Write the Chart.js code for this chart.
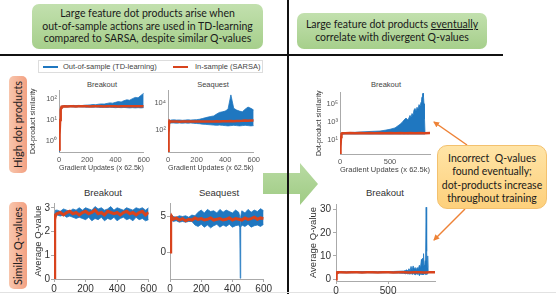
<!DOCTYPE html>
<html>
<head>
<meta charset="utf-8">
<script src="https://cdn.jsdelivr.net/npm/chart.js@4.4.1/dist/chart.umd.min.js"></script>
<style>
  body { margin: 0; background: #fff; }
  #page { position: relative; width: 556px; height: 294px; overflow: hidden; font-family: Lato, "Open Sans", sans-serif; }
  #page canvas { position: absolute; }
  #page svg { position: absolute; left: 0; top: 0; }
  .box { position: absolute; text-align: center; color: #1a1a1a; font-size: 10.5px; line-height: 12.7px; box-sizing: border-box; }
  .green { background: linear-gradient(#c2e0ae, #a6cf8b); border-radius: 7px; }
  .side { position: absolute; width: 18px; background: linear-gradient(90deg, #f3a182, #f8c6ad); border-radius: 5px;
          writing-mode: vertical-rl; transform: rotate(180deg); text-align: center; font-size: 11px; line-height: 18px; color: #222; }
  .ct { position: absolute; width: 80px; text-align: center; font-family: "Liberation Sans", Arial, sans-serif; font-weight: normal; color: #444; }
  .leg { position: absolute; left: 38px; top: 60px; width: 225px; height: 13px; border: 1px solid #ddd; box-sizing: border-box;
         font-family: "Liberation Sans", Arial, sans-serif; font-size: 7.5px; color: #444; }
  .leg span { position: absolute; top: 1px; }
  .leg i { position: absolute; top: 5px; height: 2px; width: 15px; }
</style>
</head>
<body>
<div id="page">
  <svg width="556" height="294">
    <defs>
      <marker id="ah" markerWidth="6" markerHeight="6" refX="5" refY="3" orient="auto" markerUnits="userSpaceOnUse">
        <path d="M0,0 L6,3 L0,6 z" fill="#ee8236"/>
      </marker>
      <linearGradient id="ga" x1="0" y1="0" x2="0" y2="1">
        <stop offset="0" stop-color="#b9dba3"/><stop offset="1" stop-color="#9fcb84"/>
      </linearGradient>
    </defs>
    <polygon points="263,173 300,173 300,163 318,184 300,205 300,194 263,194" fill="url(#ga)"/>
    <rect x="287" y="0" width="2" height="294" fill="#111"/>
    <rect x="0" y="54" width="503" height="2" fill="#111"/>
    <line x1="467" y1="145" x2="434" y2="122" stroke="#ee8236" stroke-width="1.5" marker-end="url(#ah)"/>
    <line x1="465" y1="209" x2="434" y2="240" stroke="#ee8236" stroke-width="1.5" marker-end="url(#ah)"/>
    <rect x="0" y="292" width="556" height="1" fill="#e2e2e2"/>
  </svg>

  <div class="box green" style="left:32px;top:4px;width:231px;height:45px;padding-top:3px;">Large feature dot products arise when<br>out-of-sample actions are used in TD-learning<br>compared to SARSA, despite similar Q-values</div>
  <div class="box green" style="left:297px;top:13px;width:190px;height:36px;padding-top:5px;">Large feature dot products <u>eventually</u><br>correlate with divergent Q-values</div>
  <div class="box" style="left:437px;top:145px;width:110px;height:64px;padding-top:6px;line-height:13.4px;border-radius:10px;border:1px solid #f3c16e;background:linear-gradient(#ffe4a6,#fdd07c);">Incorrect&nbsp; Q-values<br>found eventually;<br>dot-products increase<br>throughout training</div>

  <div class="side" style="left:9px;top:76px;height:97px;">High dot products</div>
  <div class="side" style="left:9px;top:202px;height:87px;">Similar Q-values</div>

  <div class="leg">
    <i style="left:4px;background:#1f77c0;"></i><span style="left:24px;">Out-of-sample (TD-learning)</span>
    <i style="left:134px;background:#d8431d;"></i><span style="left:156px;">In-sample (SARSA)</span>
  </div>

  <div class="ct" style="left:62px;top:80px;font-size:7.5px;">Breakout</div>
  <div class="ct" style="left:173px;top:80px;font-size:7.5px;">Seaquest</div>
  <div class="ct" style="left:346px;top:80px;font-size:7.5px;">Breakout</div>
  <div class="ct" style="left:63px;top:187px;font-size:9.5px;color:#333;">Breakout</div>
  <div class="ct" style="left:179px;top:187px;font-size:9.5px;color:#333;">Seaquest</div>
  <div class="ct" style="left:345px;top:187px;font-size:9.5px;color:#333;">Breakout</div>

  <canvas id="brkDot" width="127" height="88" style="left:26px;top:84px;"></canvas>
  <canvas id="seaDot" width="121" height="88" style="left:142px;top:84px;"></canvas>
  <canvas id="brkQ" width="130" height="98" style="left:28px;top:196px;"></canvas>
  <canvas id="seaQ" width="123" height="98" style="left:150px;top:196px;"></canvas>
  <canvas id="longDot" width="126" height="90" style="left:310px;top:86px;"></canvas>
  <canvas id="longQ" width="135" height="98" style="left:306px;top:196px;"></canvas>
</div>

<script>
// ---------- data ----------
// top row: dot-product similarity, x = gradient updates (x 62.5k)
var xTop = [0,4,8,12,16,20,40,60,80,100,120,140,160,180,200,220,240,260,280,300,320,340,360,380,400,420,440,460,480,500,520,540,560,580,600];
var brkDotRed = [0.4,2,10,30,40,44, 45,44,45,45,44,45,46,45,45,44,45,45,46,45,44,45,46,45,45,44,45,46,45,45,46,45,45,46,45];
var brkDotBlueHi = [0.4,2,11,34,44,47, 48,49,48,50,49,50,49,51,52,53,55,54,57,59,58,62,66,64,70,76,73,84,92,88,105,120,115,150,190];
var brkDotBlueLo = [0.3,1.6,9,28,38,41, 42,42,43,42,42,43,42,42,41,42,41,42,41,40,41,40,41,40,39,40,39,40,39,38,39,38,39,38,39];
var seaDotRed = [1.5,60,400,450,420,430, 420,430,410,420,430,415,425,420,430,420,425,430,420,425,430,440,430,445,435,450,460,440,455,470,480,500,490,510,500];
var seaDotBlueHi = [1.5,80,550,560,520,540, 560,540,550,520,540,560,540,560,580,620,700,800,900,1000,1100,1500,2000,2200,2500,3500,40000,4000,3000,2500,2200,3500,5000,4000,3000];
var seaDotBlueLo = [1.3,40,300,340,320,330, 330,320,330,320,330,320,330,310,300,290,270,260,250,240,230,220,230,220,210,200,210,220,210,200,210,220,210,200,210];

// bottom row: average Q-value
var xQ = [0,3,6,10,20,40,60,80,100,120,140,160,180,200,220,240,260,280,300,320,340,360,380,400,420,440,460,480,500,520,540,560,580,600];
var brkQRed = [0,1.5,2.5,2.7, 2.75,2.8,2.7,2.8,2.85,2.75,2.8,2.7,2.8,2.85,2.75,2.8,2.9,2.75,2.8,2.7,2.85,2.8,2.75,2.8,2.7,2.8,2.85,2.75,2.8,2.7,2.8,2.85,2.7,2.8];
var brkQBlueHi = [0,1.6,2.7,2.9, 2.9,2.85,2.95,2.9,2.85,2.95,2.9,3.0,2.9,3.0,2.95,2.9,3.05,2.95,3.0,2.9,2.95,3.05,2.9,3.0,2.95,2.9,3.0,2.95,2.9,3.0,2.95,3.0,2.9,3.0];
var brkQBlueLo = [0,1.2,2.3,2.6, 2.7,2.65,2.7,2.6,2.65,2.6,2.55,2.6,2.55,2.5,2.6,2.45,2.55,2.5,2.6,2.45,2.55,2.5,2.6,2.45,2.55,2.6,2.5,2.55,2.45,2.6,2.5,2.55,2.45,2.5];
var seaQRed = [0,2.5,4.5,5, 4.6,4.8,4.5,4.7,4.4,4.6,4.5,4.8,4.6,4.7,4.5,4.6,4.8,4.5,4.6,4.7,4.5,4.6,4.8,4.5,4.7,4.6,4.5,4.8,4.6,4.7,4.9,4.6,4.8,4.7];
var xSeaQ = [0,3,6,10,20,40,60,80,100,120,140,160,180,200,220,240,260,280,300,320,340,360,380,400,420,440,447,450,453,460,480,500,520,540,560,580,600];
var seaQBlueHi = [0,3,5,5.3, 5.0,4.9,5.1,5.0,5.1,4.9,5.2,5.1,5.6,5.9,5.5,6.0,5.7,5.8,5.5,6.0,5.6,5.9,5.7,5.5,5.9,5.6, 5.0,3.5,5.0, 5.8,5.5,6.0,5.6,5.9,5.7,6.1,5.8];
var seaQBlueLo = [0,2,4,4.5, 4.3,4.4,4.2,4.3,4.2,4.3,4.3,3.8,3.6,3.9,3.5,3.8,3.4,3.7,3.9,3.5,3.8,3.6,3.9,3.5,3.7,3.8, 3.5,-3.7,3.5, 3.8,3.6,3.9,3.5,3.7,3.8,3.6,3.9];

// right column: longer Breakout run
var xLongDot = [0,5,10,15,20,50,100,150,200,250,300,350,400,450,500,550,600,620,640,660,680,700,710,720,730,740,750,760,770,780,790,800,810,815,820,825,830,835,840,845,850];
var longDotBlueHi = [0.3,1,10,40,55, 60,62,65,70,75,80,85,90,110,140,200,500, 800,1500,2500,1500,5000, 3000,8000,5000,20000,30000,15000,40000,25000,80000,50000, 150000,300000,600000,1200000,1500000,600000,100000,2000,60];
var longDotBlueLo = [0.3,1,8,30,40, 42,42,41,42,42,41,42,41,42,41,42,41, 42,41,42,41,42, 41,42,41,42,41,42,41,42,41,42, 41,42,41,42,41,42,41,42,45];
var xLongDotRed = [0,5,10,15,20,50,100,150,200,250,300,350,400,450,500,550,600,650,700,750,800,850,900];
var longDotRed = [0.3,2,20,45,50,52,53,52,53,52,53,52,53,52,53,52,53,52,53,52,53,52,53];
var xLongQ = [0,5,10,15,20,50,100,150,200,250,300,350,400,450,500,550,600,650,670,680,690,700,710,720,730,740,750,760,770,780,790,800,810,820,825,830,835,840,845,850,855,860,865,870,875,880,885];
var longQBlueHi = [0,2,2.8,3,3.1, 3.3,3.2,3.3,3.2,3.3,3.2,3.3,3.2,3.3,3.2,3.3,3.4, 3.5,3.8,4,3.5, 4.5,3.6,5.5,4,5.7,4.5,5,4.2,5,4.5,6,5, 8.5,5,9,6,11,6,5,8,10,31,12,5,10,3.5];
var longQBlueLo = [0,1.5,2.5,2.7,2.8, 2.7,2.8,2.7,2.8,2.7,2.8,2.7,2.8,2.7,2.8,2.7,2.6, 2.5,2.3,2.5,2.2, 2.4,2.1,2.5,2.0,2.4,2.2,1.8,2.3,2.0,2.4,1.5,2.2, 2.0,2.4,1.8,2.3,2.0,2.5,2.2,2.0,2.3,2.0,2.4,2.2,2.5,2.7];
var xLongQRed = [0,5,10,15,20,50,100,150,200,250,300,350,400,450,500,550,600,650,700,750,800,850,900,950];
var longQRed = [0,2,2.8,3,3, 3,2.9,3,3,2.9,3,3,2.9,3,3,2.9,3,3,2.9,3,3,2.9,3,3];

// tick values and labels
var xTicks600 = [0,200,400,600];
var xTicksLong = [0,500];
var brkDotTicks = [1,10,100];
var brkDotLabels = ["10\u2070","10\u00b9","10\u00b2"];
var seaDotTicks = [100,10000];
var seaDotLabels = ["10\u00b2","10\u2074"];
var longDotTicks = [10,1000,100000];
var longDotLabels = ["10\u00b9","10\u00b3","10\u2075"];
var brkQTicks = [0,1,2,3];
var seaQTicks = [0,5];
var longQTicks = [0,10,20,30];

// ---------- drawing ----------
var blue = "#1f77c0";
var red = "#d8431d";
var fam = "'Liberation Sans', Arial, sans-serif";

function pts(xs, ys) {
    return xs.map(function (x, i) { return { x: x, y: ys[i] }; });
}

function series(xs, red1, xb, hi, lo, redWidth) {
    return [
        { data: pts(xs, red1), borderColor: red, borderWidth: redWidth, pointRadius: 0, fill: false },
        { data: pts(xb, hi), borderColor: blue, backgroundColor: blue, borderWidth: 0.8, pointRadius: 0, fill: "+1" },
        { data: pts(xb, lo), borderColor: blue, borderWidth: 0.8, pointRadius: 0, fill: false },
    ];
}

function makeChart(id, datasets, o) {
    var ctx = document.getElementById(id);
    return new Chart(ctx, {
        type: "line",
        data: { datasets: datasets },
        options: {
            responsive: false,
            animation: false,
            events: [],
            layout: { autoPadding: false, padding: { top: o.pt, right: o.pr, left: 0, bottom: 0 } },
            plugins: { legend: { display: false }, tooltip: { enabled: false } },
            scales: {
                x: {
                    type: "linear",
                    min: o.xmin,
                    max: o.xmax,
                    afterFit: function (s) { s.height = o.xh; },
                    afterBuildTicks: function (s) { s.ticks = o.xticks.map(function (v) { return { value: v }; }); },
                    ticks: { font: { family: fam, size: o.fs }, color: o.tc, padding: o.xpad, maxRotation: 0, autoSkip: false },
                    grid: { drawOnChartArea: false, drawTicks: o.tl > 0, tickLength: o.tl, color: "#aaa" },
                    border: { color: "#aaa" },
                    title: { display: !!o.xtitle, text: o.xtitle, font: { family: fam, size: 7.5 }, color: "#444", padding: { top: 0, bottom: o.xtpad || 0 } },
                },
                y: {
                    type: o.log ? "logarithmic" : "linear",
                    min: o.ymin,
                    max: o.ymax,
                    afterFit: function (s) { s.width = o.yw; },
                    afterBuildTicks: function (s) { s.ticks = o.yticks.map(function (v) { return { value: v }; }); },
                    ticks: {
                        font: { family: fam, size: o.fs }, color: o.tc, padding: o.ypad, autoSkip: false,
                        callback: function (v, i) { return o.ylabels ? o.ylabels[i] : String(v); },
                    },
                    grid: { drawOnChartArea: false, drawTicks: o.tl > 0, tickLength: o.tl, color: "#aaa" },
                    border: { color: "#aaa" },
                    title: { display: !!o.ytitle, text: o.ytitle, font: { family: fam, size: o.yts }, color: "#333", padding: { top: o.ytpad, bottom: 0 } },
                },
            },
        },
    });
}

makeChart("brkDot", series(xTop, brkDotRed, xTop, brkDotBlueHi, brkDotBlueLo, 2.5), {
    pt: 4, pr: 6, xh: 20, yw: 33, xmin: 0, xmax: 600, xticks: xTicks600, log: true,
    ymin: 0.316, ymax: 257, yticks: brkDotTicks, ylabels: brkDotLabels,
    fs: 7.5, tc: "#555", tl: 0, xpad: 3, ypad: 2,
    xtitle: "Gradient Updates (x 62.5k)", ytitle: "Dot-product similarity", yts: 7, ytpad: 3,
});

makeChart("seaDot", series(xTop, seaDotRed, xTop, seaDotBlueHi, seaDotBlueLo, 2.5), {
    pt: 4, pr: 6, xh: 20, yw: 26, xmin: 0, xmax: 600, xticks: xTicks600, log: true,
    ymin: 2.3, ymax: 85000, yticks: seaDotTicks, ylabels: seaDotLabels,
    fs: 7.5, tc: "#555", tl: 0, xpad: 3, ypad: 2,
    xtitle: "Gradient Updates (x 62.5k)",
});

makeChart("brkQ", series(xQ, brkQRed, xQ, brkQBlueHi, brkQBlueLo, 3), {
    pt: 4, pr: 6, xh: 15, yw: 26, xmin: 0, xmax: 600, xticks: xTicks600,
    ymin: 0, ymax: 3.2, yticks: brkQTicks,
    fs: 10, tc: "#333", tl: 3, xpad: 1, ypad: 1,
    ytitle: "Average Q-value", yts: 9.5, ytpad: 5,
});

makeChart("seaQ", series(xQ, seaQRed, xSeaQ, seaQBlueHi, seaQBlueLo, 3), {
    pt: 4, pr: 6, xh: 15, yw: 20, xmin: 0, xmax: 600, xticks: xTicks600,
    ymin: -3.8, ymax: 6.9, yticks: seaQTicks,
    fs: 10, tc: "#333", tl: 3, xpad: 1, ypad: 1,
});

makeChart("longDot", series(xLongDotRed, longDotRed, xLongDot, longDotBlueHi, longDotBlueLo, 2.5), {
    pt: 4, pr: 6, xh: 22, yw: 30, xmin: 0, xmax: 900, xticks: xTicksLong, log: true,
    ymin: 0.245, ymax: 1800000, yticks: longDotTicks, ylabels: longDotLabels,
    fs: 7.5, tc: "#555", tl: 0, xpad: 3, ypad: 2,
    xtitle: "Gradient Updates (x 62.5k)", xtpad: 1.5, ytitle: "Dot-product similarity", yts: 7, ytpad: 5,
});

makeChart("longQ", series(xLongQRed, longQRed, xLongQ, longQBlueHi, longQBlueLo, 2.5), {
    pt: 4, pr: 6, xh: 13, yw: 30, xmin: 0, xmax: 950, xticks: xTicksLong,
    ymin: -0.8, ymax: 32.4, yticks: longQTicks,
    fs: 10, tc: "#333", tl: 3, xpad: 1, ypad: 2,
    ytitle: "Average Q-value", yts: 9.5, ytpad: 1.5,
});
</script>
</body>
</html>
